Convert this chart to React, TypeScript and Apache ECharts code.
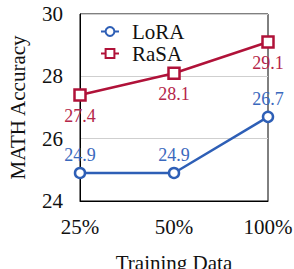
import React, { useEffect, useRef } from "react";
import * as echarts from "echarts";

const categories = ["25%", "50%", "100%"];
const loraValues = [24.9, 24.9, 26.7];
const rasaValues = [27.4, 28.1, 29.1];
const yTicks = { min: 24, max: 30, interval: 2 };

const BLUE = "#2e5fb6";
const RED = "#b01239";
const FONT = "Times New Roman, Liberation Serif, DejaVu Serif, serif";

export default function App() {
  const ref = useRef<HTMLDivElement>(null);
  useEffect(() => {
    if (!ref.current) return;
    const chart = echarts.init(ref.current, undefined, { renderer: "svg" });
    chart.setOption({
      animation: false,
      textStyle: { fontFamily: FONT },
      grid: {
        left: 80,
        right: 26,
        top: 14,
        bottom: 68,
        containLabel: false,
        outerBoundsMode: "none",
        show: true,
        borderColor: "#000",
        borderWidth: 1,
      },
      legend: {
        orient: "vertical",
        left: 95,
        top: 16,
        itemWidth: 18,
        itemHeight: 11,
        itemGap: 1,
        textStyle: { fontFamily: FONT, fontSize: 21, color: "#111", lineHeight: 21, padding: [0, 0, 0, 8] },
        data: ["LoRA", "RaSA"],
      },
      xAxis: {
        type: "category",
        data: categories,
        boundaryGap: false,
        axisLine: { lineStyle: { color: "#000", width: 1 } },
        axisTick: { show: false },
        axisLabel: { fontFamily: FONT, fontSize: 21, color: "#111", margin: 15 },
        splitLine: { show: false },
        name: "Training Data",
        nameLocation: "middle",
        nameGap: 51,
        nameTextStyle: { fontFamily: FONT, fontSize: 21, color: "#111" },
      },
      yAxis: {
        type: "value",
        min: yTicks.min,
        max: yTicks.max,
        interval: yTicks.interval,
        axisLine: { show: true, lineStyle: { color: "#000", width: 1 } },
        axisTick: { show: false },
        axisLabel: { fontFamily: FONT, fontSize: 21, color: "#111", margin: 17 },
        splitLine: { show: true, lineStyle: { color: "#cfcfcf", width: 1 } },
        name: "MATH Accuracy",
        nameLocation: "middle",
        nameRotate: 90,
        nameGap: 52,
        nameTextStyle: { fontFamily: FONT, fontSize: 21, color: "#111" },
      },
      series: [
        {
          name: "LoRA",
          type: "line",
          data: loraValues,
          symbol: "circle",
          symbolSize: 10,
          itemStyle: { color: "#fff", borderColor: BLUE, borderWidth: 2.5 },
          lineStyle: { color: BLUE, width: 2.5 },
          label: {
            show: true,
            position: "top",
            distance: 3,
            fontFamily: FONT,
            fontSize: 18,
            color: "#3a68bd",
          },
          z: 3,
        },
        {
          name: "RaSA",
          type: "line",
          data: rasaValues,
          symbol: "rect",
          symbolSize: 11,
          itemStyle: { color: "#fff", borderColor: RED, borderWidth: 2.5 },
          lineStyle: { color: RED, width: 2.5 },
          label: {
            show: true,
            position: "bottom",
            distance: 5,
            fontFamily: FONT,
            fontSize: 18,
            color: "#b5264a",
          },
          z: 3,
        },
      ],
    });
    return () => chart.dispose();
  }, []);
  return (
    <div
      ref={ref}
      style={{ position: "fixed", left: 0, top: 0, width: 294, height: 269, background: "#fff" }}
    />
  );
}
